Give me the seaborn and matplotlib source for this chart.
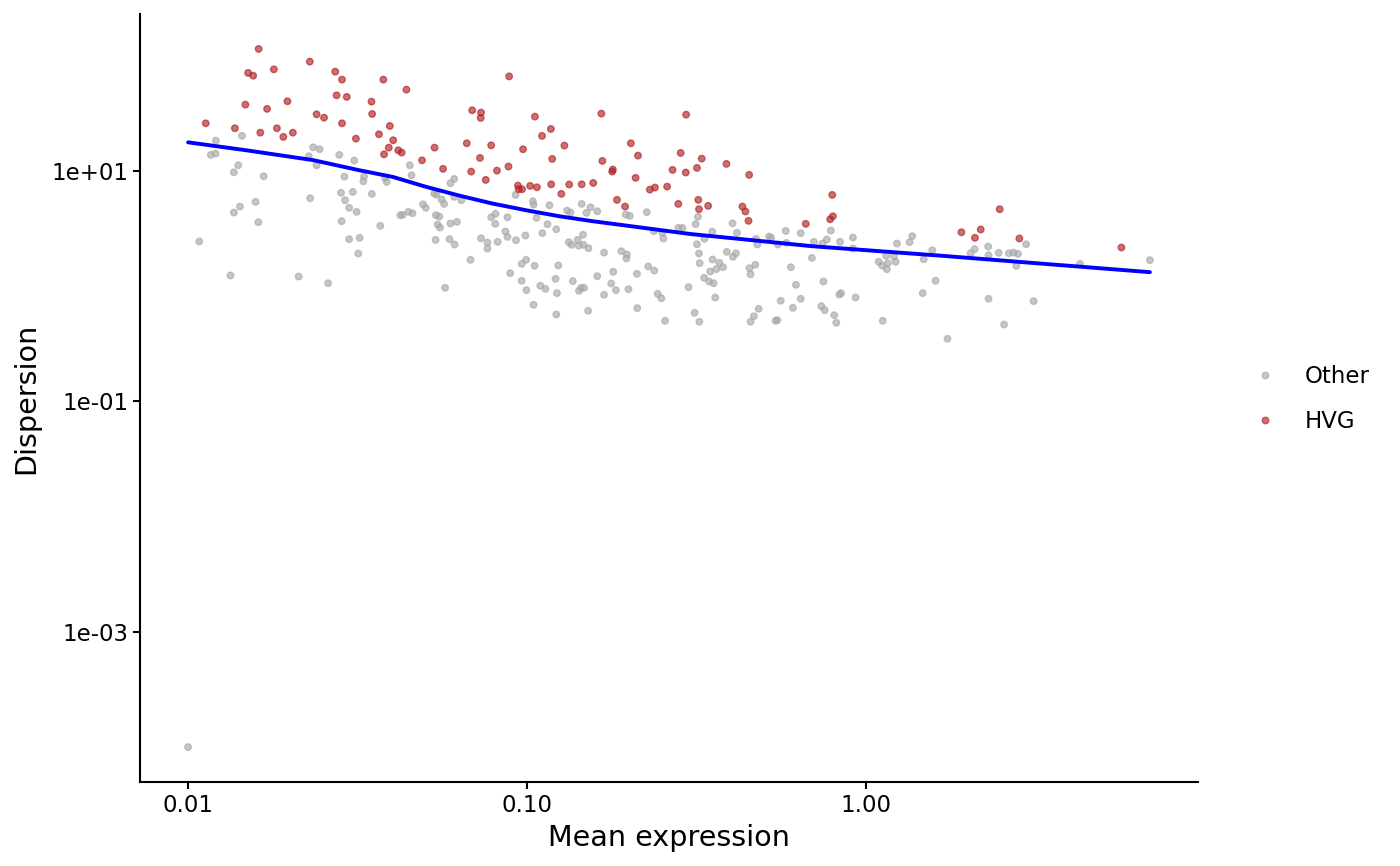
import numpy as np
import pandas as pd
import matplotlib
matplotlib.use("Agg")
import matplotlib.pyplot as plt
import seaborn as sns

# values, stored as log10 (mean expression, dispersion)
log10_mean_hvg = [
    -1.792, -1.641, -1.823, -1.808, -1.747, -1.566, -1.546, -1.424, -1.356, -1.562,
    -1.532, -1.459, -1.707, -1.831, -1.767, -1.621, -1.599, -1.457, -1.546, -1.948,
    -1.862, -1.787, -1.738, -1.691, -1.719, -1.405, -1.437, -1.505, -1.395, -1.408,
    -1.422, -1.380, -1.370, -1.310, -1.273, -1.053, -1.162, -1.136, -1.137, -0.977,
    -0.781, -0.531, -0.930, -0.956, -1.178, -1.106, -1.012, -0.890, -0.694, -0.547,
    -1.139, -0.673, -0.926, -0.778, -1.248, -1.165, -1.089, -1.055, -1.122, -0.747,
    -0.749, -0.571, -0.532, -0.680, -1.027, -1.025, -1.015, -0.991, -0.971, -0.929,
    -0.876, -0.839, -0.805, -0.899, -0.638, -0.623, -0.587, -0.735, -0.711, -0.554,
    -0.485, -0.499, -0.412, -0.345, -0.495, -0.493, -0.466, -0.365, -0.356, -0.347,
    -0.100, -0.098, -0.106, -0.178, 0.281, 0.338, 0.321, 0.394, 0.452, 0.753,
]
log10_disp_hvg = [
    2.055, 1.945, 1.847, 1.823, 1.878, 1.858, 1.789, 1.789, 1.702, 1.653,
    1.639, 1.598, 1.601, 1.572, 1.535, 1.488, 1.459, 1.491, 1.410, 1.410,
    1.367, 1.329, 1.367, 1.329, 1.292, 1.387, 1.315, 1.277, 1.263, 1.199,
    1.141, 1.176, 1.156, 1.089, 1.199, 1.817, 1.523, 1.503, 1.457, 1.468,
    1.494, 1.485, 1.361, 1.301, 1.237, 1.219, 1.185, 1.217, 1.237, 1.153,
    1.110, 1.130, 1.101, 1.084, 1.015, 0.991, 1.000, 1.035, 0.919, 1.009,
    0.991, 1.006, 0.983, 0.937, 0.870, 0.838, 0.838, 0.867, 0.855, 0.881,
    0.879, 0.881, 0.893, 0.798, 0.835, 0.853, 0.861, 0.746, 0.688, 0.711,
    1.104, 1.023, 1.058, 0.963, 0.746, 0.665, 0.694, 0.688, 0.645, 0.564,
    0.789, 0.604, 0.578, 0.538, 0.465, 0.489, 0.417, 0.665, 0.411, 0.333,
]

log10_mean_other = [
    -1.918, -1.841, -1.933, -1.919, -1.852, -1.865, -1.777, -1.631, -1.612, -1.644,
    -1.621, -1.554, -1.510, -1.539, -1.481, -1.346, -1.341, -1.483, -1.419, -1.414,
    -1.549, -1.514, -1.458, -1.640, -1.537, -1.801, -1.847, -1.865, -1.525, -1.503,
    -1.793, -1.547, -1.433, -1.374, -1.367, -1.350, -1.338, -1.307, -1.299, -1.274,
    -1.267, -1.269, -1.264, -1.270, -1.967, -1.525, -1.494, -1.498, -1.875, -1.674,
    -1.587, -1.215, -1.226, -1.252, -1.245, -1.215, -1.194, -1.034, -0.983, -0.981,
    -0.934, -0.839, -0.813, -0.793, -0.882, -0.872, -0.825, -0.709, -0.697, -0.647,
    -1.259, -1.257, -1.226, -1.207, -1.106, -1.093, -1.058, -0.972, -1.094, -0.940,
    -0.914, -1.064, -1.058, -1.005, -0.955, -1.033, -1.136, -1.117, -1.117, -1.087,
    -1.229, -1.214, -0.835, -0.877, -0.869, -0.851, -0.848, -0.834, -0.819, -0.773,
    -0.722, -0.706, -0.707, -0.626, -0.601, -0.598, -0.554, -0.542, -1.167, -1.016,
    -1.003, -0.978, -0.908, -1.050, -1.016, -1.002, -0.961, -0.946, -0.916, -0.912,
    -0.865, -0.847, -0.841, -0.832, -0.793, -0.746, -0.752, -0.738, -0.773, -0.701,
    -0.676, -0.643, -0.625, -0.615, -0.604, -0.524, -1.242, -0.981, -0.914, -0.820,
    -0.675, -0.593, -0.496, -0.503, -0.454, -0.394, -0.381, -0.325, -0.286, -0.280,
    -0.237, -0.193, -0.104, -0.116, -0.039, 0.136, -0.321, -0.499, -0.477, -0.493,
    -0.491, -0.453, -0.433, -0.422, -0.442, -0.460, -0.411, -0.384, -0.393, -0.478,
    -0.463, -0.450, -0.445, -0.506, -0.492, -0.344, -0.341, -0.327, -0.260, -0.235,
    -0.222, -0.207, -0.252, -0.317, -0.331, -0.341, -0.267, -0.262, -0.216, -0.193,
    -0.160, -0.154, -0.129, -0.077, -0.126, -0.132, -0.122, -0.094, -0.088, -0.079,
    -0.074, -0.031, -0.039, 0.037, 0.047, 0.061, 0.059, 0.064, 0.082, 0.087,
    0.091, 0.128, 0.049, 0.170, 0.195, 0.205, 0.167, 0.240, 0.308, 0.320,
    0.360, 0.361, 0.391, 0.421, 0.435, 0.448, 0.472, 0.443, 0.361, 0.494,
    0.407, 0.631, 0.837, -2.000,
]
log10_disp_other = [
    1.260, 1.301, 1.136, 1.147, 1.046, 0.985, 0.951, 1.202, 1.185, 1.124,
    1.046, 1.136, 1.087, 0.948, 0.948, 1.046, 0.959, 0.907, 0.937, 0.902,
    0.807, 0.815, 0.798, 0.760, 0.743, 0.729, 0.688, 0.636, 0.677, 0.642,
    0.552, 0.561, 0.521, 0.613, 0.616, 0.642, 0.630, 0.708, 0.677, 0.801,
    0.792, 0.613, 0.532, 0.399, 0.385, 0.405, 0.417, 0.281, 0.090, 0.081,
    0.023, 0.928, 0.890, 0.749, 0.711, 0.772, 0.743, 0.789, 0.734, 0.705,
    0.699, 0.711, 0.682, 0.647, 0.653, 0.636, 0.633, 0.619, 0.607, 0.639,
    0.601, 0.506, 0.541, 0.555, 0.595, 0.625, 0.595, 0.590, 0.538, 0.535,
    0.491, 0.471, 0.425, 0.437, 0.457, 0.396, 0.413, 0.376, 0.324, 0.382,
    0.405, 0.359, 0.443, 0.379, 0.356, 0.399, 0.350, 0.356, 0.327, 0.289,
    0.301, 0.272, 0.237, 0.474, 0.460, 0.411, 0.503, 0.503, 0.226, 0.191,
    0.226, 0.174, 0.177, 0.110, 0.044, -0.037, 0.001, -0.025, 0.061, -0.063,
    0.041, -0.043, -0.017, -0.017, 0.084, 0.122, 0.021, -0.037, -0.077, -0.029,
    0.105, 0.168, 0.133, -0.069, -0.107, -0.011, -0.017, -0.164, -0.248, -0.216,
    -0.193, -0.303, 0.599, 0.535, 0.471, 0.543, 0.460, 0.408, 0.428, 0.417,
    0.477, 0.457, 0.480, 0.402, 0.419, 0.431, 0.359, 0.361, 0.408, 0.281,
    0.197, 0.229, 0.200, 0.162, 0.145, 0.125, 0.295, 0.283, 0.252, 0.070,
    0.038, 0.023, -0.101, -0.233, -0.311, 0.153, 0.101, 0.183, 0.359, 0.373,
    0.162, 0.009, -0.129, -0.199, -0.263, -0.311, -0.303, -0.297, -0.190, -0.112,
    0.243, 0.382, 0.367, 0.382, 0.038, -0.176, -0.211, -0.254, -0.320, -0.075,
    -0.063, -0.101, 0.324, 0.209, 0.177, 0.145, 0.261, 0.197, 0.255, 0.209,
    0.367, 0.379, -0.303, 0.231, 0.309, 0.044, -0.063, -0.459, 0.283, 0.318,
    0.341, 0.266, 0.287, 0.283, 0.289, 0.278, 0.361, 0.174, -0.112, -0.133,
    -0.335, 0.191, 0.223, -4.000,
]

# trend line (log10 mean, log10 dispersion)
log10_mean_trend = [-2.000, -1.828, -1.632, -1.495, -1.396, -1.298, -1.200,
                    -1.102, -1.003, -0.905, -0.807, -0.679, -0.522, -0.159,
                    0.215, 0.837]
log10_disp_trend = [1.245, 1.176, 1.091, 1.003, 0.945, 0.859, 0.783,
                    0.714, 0.656, 0.604, 0.561, 0.512, 0.451, 0.344,
                    0.263, 0.119]

points = pd.DataFrame({
    "mean": 10 ** np.array(log10_mean_other + log10_mean_hvg),
    "dispersion": 10 ** np.array(log10_disp_other + log10_disp_hvg),
    "status": ["Other"] * len(log10_mean_other) + ["HVG"] * len(log10_mean_hvg),
})
trend = pd.DataFrame({
    "mean": 10 ** np.array(log10_mean_trend),
    "dispersion": 10 ** np.array(log10_disp_trend),
})

sns.set_style("ticks")
plt.rcParams["font.family"] = ["DejaVu Sans"]

fig = plt.figure(figsize=(14, 8.66), dpi=100)
ax = fig.add_axes([0.1, 0.097, 0.7557, 0.8868])

sns.scatterplot(data=points, x="mean", y="dispersion", hue="status",
                hue_order=["Other", "HVG"],
                palette={"Other": "#a8a8a8", "HVG": "#b22222"},
                s=22, alpha=0.65, linewidth=1.0, edgecolor="face", ax=ax)
sns.lineplot(data=trend, x="mean", y="dispersion", color="#0000ff",
             linewidth=2.8, ax=ax, legend=False, zorder=5)

ax.set_xscale("log")
ax.set_yscale("log")

# ggplot-like 5% expansion in log space
lx = np.log10(points["mean"])
ly = np.log10(points["dispersion"])
ex = (lx.max() - lx.min()) * 0.05
ey = (ly.max() - ly.min()) * 0.05
ax.set_xlim(10 ** (lx.min() - ex), 10 ** (lx.max() + ex))
ax.set_ylim(10 ** (ly.min() - ey), 10 ** (ly.max() + ey))

ax.set_xticks([0.01, 0.1, 1.0])
ax.set_xticklabels(["0.01", "0.10", "1.00"])
ax.set_yticks([1e-3, 1e-1, 1e1])
ax.set_yticklabels(["1e-03", "1e-01", "1e+01"])
ax.minorticks_off()
ax.tick_params(axis="both", which="major", labelsize=16.5, length=5,
               width=1.5, color="black", labelcolor="black", pad=3.5)

for side in ["left", "bottom"]:
    ax.spines[side].set_linewidth(1.5)
    ax.spines[side].set_color("black")
sns.despine(ax=ax)

ax.set_xlabel("Mean expression", fontsize=20.6, labelpad=5, color="black")
ax.set_ylabel("Dispersion", fontsize=20.6, labelpad=8, color="black")

handles, labels = ax.get_legend_handles_labels()
leg = ax.legend(handles, labels, loc="center left", bbox_to_anchor=(0.881, 0.539),
                bbox_transform=fig.transFigure, frameon=False, fontsize=16.5,
                handlelength=1.0, handletextpad=1.2, labelspacing=0.98,
                borderpad=0.4, title=None)
for t in leg.get_texts():
    t.set_color("black")

fig.savefig("out.png", dpi=100)
